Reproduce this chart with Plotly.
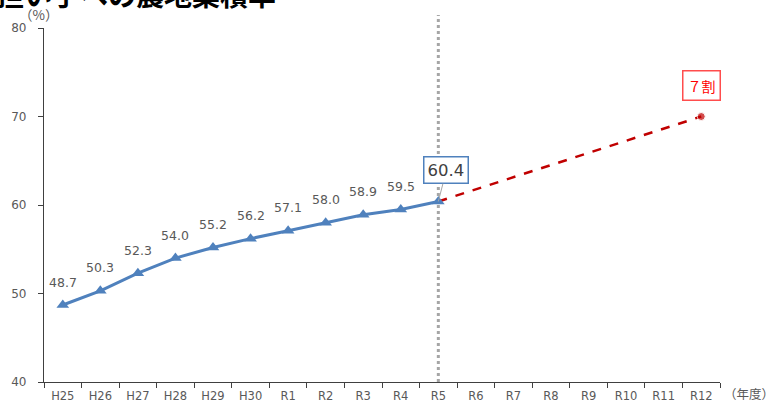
import plotly.graph_objects as go

categories = ["H25", "H26", "H27", "H28", "H29", "H30", "R1", "R2", "R3", "R4",
              "R5", "R6", "R7", "R8", "R9", "R10", "R11", "R12"]
actual_years = ["H25", "H26", "H27", "H28", "H29", "H30", "R1", "R2", "R3", "R4", "R5"]
actual_values = [48.7, 50.3, 52.3, 54.0, 55.2, 56.2, 57.1, 58.0, 58.9, 59.5, 60.4]
target_years = ["R5", "R12"]
target_values = [60.4, 70.0]
y_ticks = [40, 50, 60, 70, 80]

FONT = "Noto Sans CJK JP"
NUMFONT = "DejaVu Sans"
BLUE = "#4F81BD"
RED = "#C00000"
GRAY = "#595959"

fig = go.Figure()

fig.add_trace(go.Scatter(
    x=target_years, y=target_values, mode="lines+markers",
    line=dict(color=RED, width=2.5, dash="dash"),
    marker=dict(size=[0, 8], color=RED, symbol="circle"),
    hoverinfo="skip", showlegend=False,
))
fig.add_trace(go.Scatter(
    x=actual_years, y=actual_values, mode="lines+markers",
    line=dict(color=BLUE, width=3),
    marker=dict(size=11, color=BLUE, symbol="triangle-up"),
    showlegend=False,
))

annotations = []
for cat, val in zip(actual_years[:-1], actual_values[:-1]):
    annotations.append(dict(
        x=cat, y=val, xref="x", yref="y", text=f"{val:.1f}", showarrow=False,
        yshift=23, font=dict(family=NUMFONT, size=12.5, color=GRAY),
    ))
annotations.append(dict(
    x=actual_years[-1], y=actual_values[-1], xref="x", yref="y",
    text=f"{actual_values[-1]:.1f}", showarrow=True, arrowhead=0,
    arrowwidth=1, arrowcolor="#A6A6A6", ax=8, ay=-31,
    bordercolor=BLUE, borderwidth=1.5, borderpad=3, bgcolor="white",
    font=dict(family=NUMFONT, size=16.5, color="#404040"),
))
annotations.append(dict(
    x=target_years[-1], y=target_values[-1], xref="x", yref="y",
    text="７割", showarrow=False, yshift=31,
    bordercolor="#FF4D4D", borderwidth=1.5, borderpad=4, bgcolor="white",
    font=dict(family=FONT, size=14, color="#FF0000"),
))
annotations.append(dict(
    x=0, y=1.0, xref="paper", yref="paper", xanchor="left", yanchor="top",
    xshift=-50, yshift=56, text="<b>担い手への農地集積率</b>", showarrow=False,
    font=dict(family=FONT, size=28, color="black"),
))
annotations.append(dict(
    x=0, y=1, xref="paper", yref="paper", xanchor="center", yanchor="middle",
    xshift=-6, yshift=14, text="（%）", showarrow=False,
    font=dict(family=FONT, size=13.5, color=GRAY),
))
annotations.append(dict(
    x=1, y=0, xref="paper", yref="paper", xanchor="left", yanchor="middle",
    xshift=2, yshift=-11, text="（年度）", showarrow=False,
    font=dict(family=FONT, size=12.5, color=GRAY),
))

fig.add_shape(type="line", x0="R5", x1="R5", xref="x", y0=0, y1=1.037, yref="paper",
              line=dict(color="#A6A6A6", width=3, dash="dot"), layer="below")

fig.update_layout(
    width=770, height=403,
    margin=dict(l=44, r=50, t=28, b=21),
    paper_bgcolor="white", plot_bgcolor="white",
    annotations=annotations,
)
fig.update_xaxes(
    type="category", categoryorder="array", categoryarray=categories,
    range=[-0.5, len(categories) - 0.5], automargin=False,
    showline=True, linecolor="#404040", linewidth=1.2,
    ticks="outside", tickson="boundaries", ticklen=5, tickcolor="#404040",
    tickfont=dict(family=NUMFONT, size=11.5, color=GRAY), ticklabelstandoff=3,
    showgrid=False, zeroline=False,
)
fig.update_yaxes(
    range=[40, 80], tickvals=y_ticks, automargin=False,
    showline=True, linecolor="#404040", linewidth=1.2,
    ticks="outside", ticklen=5, tickcolor="#404040",
    tickfont=dict(family=NUMFONT, size=12, color=GRAY), ticklabelstandoff=9,
    showgrid=False, zeroline=False,
)

fig.write_html("out.html")
